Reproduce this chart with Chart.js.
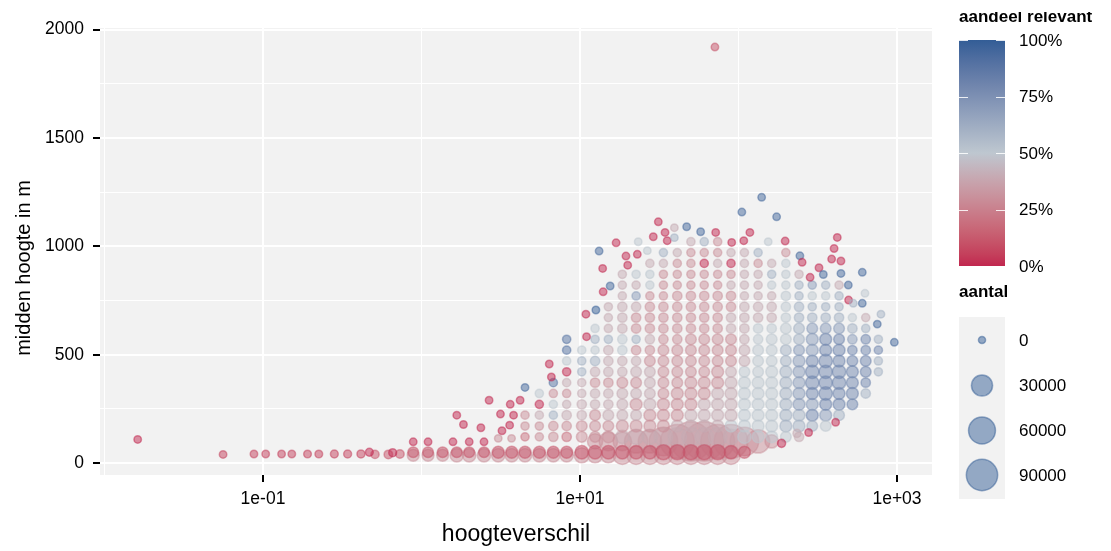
<!DOCTYPE html>
<html>
<head>
<meta charset="utf-8">
<script src="https://cdn.jsdelivr.net/npm/chart.js@4.4.1/dist/chart.umd.min.js"></script>
<style>
  html, body { margin: 0; padding: 0; background: #ffffff; }
  canvas { display: block; }
</style>
</head>
<body>
<canvas id="chart" width="1111" height="551"></canvas>
<script>
// ---- binned grid: hoogteverschil columns and midden-hoogte rows ----
const gridX = [0.887, 1.10, 1.36, 1.67, 2.0, 2.48, 3.05, 3.71, 4.5, 5.54, 6.79,
               8.24, 10.26, 12.45, 15.1, 18.5, 22.6, 27.6, 33.6, 41.1, 50.1, 60.8,
               73.9, 89.7, 109, 133, 162, 199, 241, 292, 355, 431, 523, 635, 763];
const gridY = [36, 50, 100, 121, 171, 221, 271, 321, 371, 421, 471, 521, 571, 621, 671,
               721, 771, 821, 871, 921, 971, 1021];

// one string per column, cells from the lowest row upward:
// first char = aandeel relevant code, second char = aantal code, ".." = no point
const gridCells = [
  "34 13", "34 13", "34 13", "35 13", "35 13", "35 13", "35 14", "35 14",
  "35 14 .. 21 31 31",
  "35 14 .. 31 31 41 01 51",
  "35 14 .. 32 32 61 51 31 91",
  "35 14 .. 22 32 42 41 31 41 01 51 91 91",
  "36 15 .. 33 33 42 42 41 41 61 61 51",
  "36 15 36 33 33 33 42 42 32 42 62 51 61 51",
  "36 15 37 34 33 43 42 42 32 42 42 42 61 41 41 41",
  "37 15 37 45 34 43 43 43 33 42 42 52 52 42 42 42 41 41 41",
  "37 15 38 46 34 43 34 43 33 43 42 32 61 32 32 42 71 41 51",
  "37 15 38 46 34 34 44 43 43 43 33 32 42 32 32 32 31 51 51 41",
  "37 16 39 47 34 34 34 33 33 33 33 33 32 32 32 32 31 31 31 41 61",
  "37 16 3A 47 44 34 34 34 33 33 33 33 32 32 32 32 32 31 31 31 41",
  "37 16 3B 47 44 44 34 34 34 33 33 33 33 32 32 32 32 31 31 31 31 41",
  "37 16 3B 47 44 44 44 34 34 33 33 33 33 32 32 32 32 31 31 01 31 61",
  "37 16 3A 47 44 44 44 44 34 34 33 33 33 32 32 32 32 31 31 41 31 31",
  "37 15 3A 46 54 44 44 44 44 43 33 33 33 42 42 32 32 41 31 01 41",
  ".. 14 39 55 54 54 54 54 54 53 43 43 42 42 42 42 41 41 41 41 41",
  ".. .. 38 54 54 54 54 54 54 53 53 53 52 52 42 42 41 41 41 31 61",
  ".. .. 35 54 54 54 54 54 54 54 53 53 53 52 42 42 41 51 61 41",
  ".. .. .. 53 64 64 64 64 64 64 63 63 53 53 52 52 52 51 51 51 31",
  ".. .. .. 42 64 64 74 74 74 74 74 73 63 63 62 62 61 61 41",
  ".. .. .. .. 63 84 74 84 85 85 84 74 74 73 62 61 51 71",
  ".. .. .. .. 53 74 84 85 85 85 85 84 84 73 62 61 51 61",
  ".. .. .. .. .. 63 84 84 85 85 84 84 83 73 62 61 61 41",
  ".. .. .. .. .. .. 83 84 84 84 83 82 72 62 51",
  ".. .. .. .. .. .. .. 62 82 83 83 82 82 61 41",
  ".. .. .. .. .. .. .. .. .. 61 61 81 61"
];
const shareCode = { "0": 0, "1": 0.1, "2": 0.2, "3": 0.3, "4": 0.4, "5": 0.5,
                    "6": 0.6, "7": 0.7, "8": 0.8, "9": 0.9, "A": 1 };
const countCode = { "0": 20, "1": 200, "2": 800, "3": 2000, "4": 3500, "5": 6000,
                    "6": 10000, "7": 20000, "8": 40000, "9": 70000, "A": 110000, "B": 160000 };

// ---- single points outside the grid ----
const looseX = [0.0162, 0.056, 0.0877, 0.104, 0.131, 0.152, 0.191, 0.225, 0.282, 0.342,
                0.415, 0.469, 0.509, 0.618, 0.658, 0.731,
                0.887, 1.10, 1.58, 2.0, 2.48, 1.67, 1.84, 2.67, 2.37, 3.15, 3.63, 4.19,
                3.81, 3.6, 3.22, 3.05, 3.7, 4.5, 6.4, 6.6,
                10.9, 11.0, 12.6, 13.2, 13.9, 14.0, 15.5, 16.9, 19.5, 20.0, 23.0, 23.3,
                26.6, 29.0, 31.2, 34.4, 35.5, 39.4, 39.4, 47.1, 57.7, 71.8, 90.6, 105,
                108, 118, 140, 174, 154, 197, 244, 252, 322, 283, 343, 420, 401, 387,
                443, 443, 493, 495, 604, 604, 530, 628, 792, 751, 962,
                410, 277, 187, 234, 71];
const looseY = [109, 40, 42, 42, 42, 42, 42, 42, 42, 42,
                42, 50, 40, 40, 48, 42,
                98, 98, 98, 98, 98, 221, 178, 290, 163, 226, 271, 290,
                221, 175, 149, 114, 114, 349, 457, 397,
                687, 583, 706, 978, 898, 790, 817, 1016, 955, 913, 963, 1021,
                980, 1044, 1113, 1064, 1026, 1086, 1040, 1090, 1067, 1064, 1018, 1158,
                1026, 1064, 1226, 1136, 1021, 1024, 956, 926, 901, 857, 870, 1041, 990, 941,
                932, 875, 821, 752, 880, 737, 737, 783, 687, 641, 557,
                188, 141, 91, 137, 1919];
const looseShare = [0, 0.05, 0.05, 0.05, 0.05, 0.05, 0.05, 0.05, 0.05, 0.05,
                    0.05, 0, 0.1, 0.1, 0, 0.1,
                    0, 0, 0, 0, 0, 0, 0, 0, 0, 0, 0, 0,
                    0, 0, 0, 0.3, 0.3, 0.95, 0, 0,
                    0, 0, 1, 0.95, 0, 0, 0.95, 0, 0, 0, 0, 0.5,
                    0.5, 0, 0, 0, 0, 0.4, 0.6, 0.95, 0.95, 0, 0, 0.95,
                    0, 0, 0.95, 0.95, 0.5, 0, 0.95, 0, 0, 0, 0.95, 0, 0, 0,
                    0, 0.95, 0.95, 0, 0.95, 0.95, 0.6, 0.5, 0.6, 0.95, 0.95,
                    0, 0, 0, 0.4, 0.1];
const looseCount = [20, 20, 20, 20, 20, 20, 50, 50, 80, 100,
                    120, 80, 200, 300, 100, 300,
                    20, 20, 20, 20, 20, 20, 20, 20, 20, 20, 20, 20,
                    20, 20, 20, 20, 20, 20, 20, 20,
                    20, 20, 20, 20, 20, 20, 20, 20, 20, 20, 20, 20,
                    20, 20, 20, 20, 20, 20, 20, 20, 20, 20, 20, 20,
                    20, 20, 20, 20, 20, 20, 20, 20, 20, 20, 20, 20, 20, 20,
                    20, 20, 20, 20, 20, 20, 20, 20, 20, 20, 20,
                    20, 20, 150, 150, 20];

// ---- axes and legends ----
const xMajorTicks = [0.1, 10, 1000];
const xMajorLabels = ["1e-01", "1e+01", "1e+03"];
const xMinorTicks = [0.01, 1, 100];
const yMajorTicks = [0, 500, 1000, 1500, 2000];
const yMinorTicks = [250, 750, 1250, 1750];
const shareBreaks = [0, 0.25, 0.5, 0.75, 1];
const shareLabels = ["0%", "25%", "50%", "75%", "100%"];
const countBreaks = [0, 30000, 60000, 90000];
const countLabels = ["0", "30000", "60000", "90000"];

const COLOR_LOW = "#C1274F", COLOR_MID = "#BEC7D0", COLOR_HIGH = "#335D96";
const POINT_ALPHA = 0.5;
const FONT = "'Liberation Sans', Arial, Helvetica, sans-serif";

// colour scale interpolated in Lab space (diverging around 50%)
function hexToRgb(h) { return [1, 3, 5].map(i => parseInt(h.slice(i, i + 2), 16)); }
function rgbToLab(rgb) {
  const f = c => { c /= 255; return c <= 0.04045 ? c / 12.92 : Math.pow((c + 0.055) / 1.055, 2.4); };
  const [R, G, B] = rgb.map(f);
  let X = (R * 0.4124 + G * 0.3576 + B * 0.1805) / 0.95047;
  let Y = (R * 0.2126 + G * 0.7152 + B * 0.0722);
  let Z = (R * 0.0193 + G * 0.1192 + B * 0.9505) / 1.08883;
  const g = t => t > 0.008856 ? Math.cbrt(t) : 7.787 * t + 16 / 116;
  X = g(X); Y = g(Y); Z = g(Z);
  return [116 * Y - 16, 500 * (X - Y), 200 * (Y - Z)];
}
function labToRgb(lab) {
  let Y = (lab[0] + 16) / 116, X = lab[1] / 500 + Y, Z = Y - lab[2] / 200;
  const h = t => { const t3 = t * t * t; return t3 > 0.008856 ? t3 : (t - 16 / 116) / 7.787; };
  X = h(X) * 0.95047; Y = h(Y); Z = h(Z) * 1.08883;
  const R = X * 3.2406 - Y * 1.5372 - Z * 0.4986;
  const G = -X * 0.9689 + Y * 1.8758 + Z * 0.0415;
  const B = X * 0.0557 - Y * 0.2040 + Z * 1.0570;
  const k = c => { c = c > 0.0031308 ? 1.055 * Math.pow(c, 1 / 2.4) - 0.055 : 12.92 * c;
                   return Math.round(Math.max(0, Math.min(1, c)) * 255); };
  return [k(R), k(G), k(B)];
}
const LAB_LOW = rgbToLab(hexToRgb(COLOR_LOW));
const LAB_MID = rgbToLab(hexToRgb(COLOR_MID));
const LAB_HIGH = rgbToLab(hexToRgb(COLOR_HIGH));
function shareRgb(s) {
  const a = s < 0.5 ? LAB_LOW : LAB_MID, b = s < 0.5 ? LAB_MID : LAB_HIGH;
  const t = s < 0.5 ? s / 0.5 : (s - 0.5) / 0.5;
  return labToRgb([0, 1, 2].map(i => a[i] + (b[i] - a[i]) * t));
}
function rgba(rgb, a) { return `rgba(${rgb[0]},${rgb[1]},${rgb[2]},${a})`; }

// point size: area scaling of aantal
const BORDER_W = 1.5;
function radiusOf(n) { return 3.55 + 0.0404 * Math.sqrt(n); }

// ---- assemble points ----
const points = [];
gridCells.forEach((col, i) => {
  col.split(" ").forEach((tok, j) => {
    if (tok === "..") return;
    points.push({ x: gridX[i], y: gridY[j], share: shareCode[tok[0]], n: countCode[tok[1]] });
  });
});
looseX.forEach((x, i) => {
  points.push({ x: x, y: looseY[i], share: looseShare[i], n: looseCount[i] });
});
points.sort((a, b) => b.n - a.n);
points.forEach(p => { p.r = radiusOf(p.n); });

// ---- plugin: panel background, axis titles, legends ----
const decor = {
  id: "decor",
  beforeDraw(chart) {
    const { ctx, chartArea: a } = chart;
    ctx.save();
    ctx.fillStyle = "#ffffff";
    ctx.fillRect(0, 0, chart.width, chart.height);
    ctx.fillStyle = "#F2F2F2";
    ctx.fillRect(a.left, a.top, a.right - a.left, a.bottom - a.top);
    ctx.restore();
  },
  afterDraw(chart) {
    const { ctx, chartArea: a } = chart;
    ctx.save();
    ctx.fillStyle = "#000000";
    ctx.font = `23px ${FONT}`;
    ctx.textAlign = "center";
    ctx.textBaseline = "middle";
    ctx.fillText("hoogteverschil", (a.left + a.right) / 2, 535);
    ctx.save();
    ctx.font = `20px ${FONT}`;
    ctx.translate(24, 268);
    ctx.rotate(-Math.PI / 2);
    ctx.fillText("midden hoogte in m", 0, 0);
    ctx.restore();

    ctx.textAlign = "left";
    // colour bar legend
    const bx = 959, bw = 46, bTop = 40, bBot = 266;
    ctx.save();
    ctx.beginPath();
    ctx.rect(940, 12, 171, 40);
    ctx.clip();
    ctx.font = `bold 17px ${FONT}`;
    ctx.textBaseline = "alphabetic";
    ctx.fillText("aandeel relevant", bx, 21.5);
    ctx.restore();
    const grad = ctx.createLinearGradient(0, bBot, 0, bTop);
    for (let k = 0; k <= 20; k++) grad.addColorStop(k / 20, rgba(shareRgb(k / 20), 1));
    ctx.fillStyle = grad;
    ctx.fillRect(bx, bTop, bw, bBot - bTop);
    ctx.strokeStyle = "rgba(255,255,255,0.85)";
    ctx.lineWidth = 1;
    ctx.font = `17px ${FONT}`;
    ctx.fillStyle = "#000000";
    ctx.textBaseline = "middle";
    shareBreaks.forEach((s, i) => {
      const y = bBot - s * (bBot - bTop);
      const yy = Math.round(y) + 0.5;
      ctx.beginPath();
      ctx.moveTo(bx, yy); ctx.lineTo(bx + 9, yy);
      ctx.moveTo(bx + bw - 9, yy); ctx.lineTo(bx + bw, yy);
      ctx.stroke();
      ctx.fillText(shareLabels[i], 1019, y + 1);
    });

    // size legend
    ctx.font = `bold 17px ${FONT}`;
    ctx.fillText("aantal", bx, 292);
    ctx.fillStyle = "#F2F2F2";
    ctx.fillRect(bx, 317, bw, 182);
    const keyY = [340, 385.5, 430.5, 475];
    const blue = shareRgb(1);
    countBreaks.forEach((n, i) => {
      ctx.beginPath();
      ctx.arc(bx + bw / 2, keyY[i], radiusOf(n), 0, Math.PI * 2);
      ctx.fillStyle = rgba(blue, POINT_ALPHA);
      ctx.fill();
      ctx.lineWidth = BORDER_W;
      ctx.strokeStyle = rgba(blue, POINT_ALPHA);
      ctx.stroke();
      ctx.fillStyle = "#000000";
      ctx.font = `17px ${FONT}`;
      ctx.fillText(countLabels[i], 1019, keyY[i] + 1);
    });
    ctx.restore();
  }
};

const isMajorX = v => xMajorTicks.some(t => Math.abs(Math.log10(t) - Math.log10(v)) < 1e-6);
const isMajorY = v => yMajorTicks.includes(v);

new Chart(document.getElementById("chart"), {
  type: "bubble",
  data: {
    datasets: [{
      data: points,
      backgroundColor: c => rgba(shareRgb(c.raw.share), POINT_ALPHA),
      borderColor: c => rgba(shareRgb(c.raw.share), POINT_ALPHA),
      borderWidth: BORDER_W
    }]
  },
  options: {
    responsive: false,
    devicePixelRatio: 1,
    animation: false,
    events: [],
    layout: { padding: { top: 28, right: 179, left: 0, bottom: 0 } },
    plugins: { legend: { display: false }, tooltip: { enabled: false } },
    scales: {
      x: {
        type: "logarithmic",
        min: 0.00937,
        max: 1663,
        afterBuildTicks: s => {
          s.ticks = xMinorTicks.concat(xMajorTicks).sort((a, b) => a - b).map(v => ({ value: v }));
        },
        afterFit: s => { s.height = 76; },
        ticks: {
          autoSkip: false,
          maxRotation: 0,
          padding: 7,
          color: "#000000",
          font: { family: FONT, size: 17.5 },
          callback: v => { const i = xMajorTicks.findIndex(t => Math.abs(t - v) / t < 1e-6); return i >= 0 ? xMajorLabels[i] : ""; }
        },
        grid: {
          color: "#ffffff",
          lineWidth: c => (c.tick && isMajorX(c.tick.value)) ? 2 : 1,
          tickColor: c => (c.tick && isMajorX(c.tick.value)) ? "#000000" : "rgba(0,0,0,0)",
          tickLength: 7,
          tickWidth: 2
        },
        border: { display: false }
      },
      y: {
        type: "linear",
        min: -55,
        max: 2007,
        afterBuildTicks: s => {
          s.ticks = yMajorTicks.concat(yMinorTicks).sort((a, b) => a - b).map(v => ({ value: v }));
        },
        afterFit: s => { s.width = 100; },
        ticks: {
          autoSkip: false,
          padding: 9,
          color: "#000000",
          font: { family: FONT, size: 17.5 },
          callback: v => isMajorY(v) ? String(v) : ""
        },
        grid: {
          color: "#ffffff",
          lineWidth: c => (c.tick && isMajorY(c.tick.value)) ? 2 : 1,
          tickColor: c => (c.tick && isMajorY(c.tick.value)) ? "#000000" : "rgba(0,0,0,0)",
          tickLength: 7,
          tickWidth: 2
        },
        border: { display: false }
      }
    }
  },
  plugins: [decor]
});
</script>
</body>
</html>
